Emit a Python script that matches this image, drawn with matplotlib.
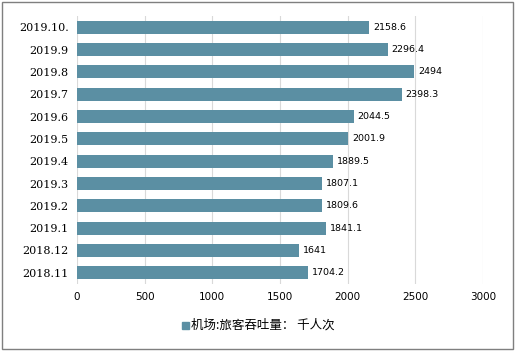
import matplotlib.pyplot as plt
from matplotlib.patches import Rectangle

months = ["2018.11", "2018.12", "2019.1", "2019.2", "2019.3", "2019.4",
          "2019.5", "2019.6", "2019.7", "2019.8", "2019.9", "2019.10."]
values = [1704.2, 1641, 1841.1, 1809.6, 1807.1, 1889.5,
          2001.9, 2044.5, 2398.3, 2494, 2296.4, 2158.6]
value_text = ["1704.2", "1641", "1841.1", "1809.6", "1807.1", "1889.5",
              "2001.9", "2044.5", "2398.3", "2494", "2296.4", "2158.6"]
xticks = [0, 500, 1000, 1500, 2000, 2500, 3000]

plt.rcParams['font.family'] = ['Noto Sans CJK SC', 'DejaVu Sans']

fig = plt.figure(figsize=(5.16, 3.51), dpi=100)
ax = fig.add_axes([0.149, 0.191, 0.787, 0.763])

color = "#5b8fa3"
y = range(len(months))
ax.barh(y, values, height=0.58, color=color, zorder=2)
for yi, v, t in zip(y, values, value_text):
    ax.text(v + 30, yi, t, va='center', ha='left', fontsize=6.8,
            family=['DejaVu Sans'])

ax.set_xlim(0, 3000)
ax.set_ylim(-0.5, len(months) - 0.5)
ax.set_xticks(xticks)
ax.set_xticklabels([str(t) for t in xticks], fontsize=7.5, family=['DejaVu Sans'])
ax.set_yticks(list(y))
ax.set_yticklabels(months, fontsize=8, family=['DejaVu Serif'])
ax.tick_params(length=0, pad=6)
ax.grid(axis='x', color='#d9d9d9', linewidth=0.8, zorder=0)
for s in ax.spines.values():
    s.set_visible(False)

# legend
fig.patches.append(Rectangle((0.352, 0.062), 0.015, 0.022, transform=fig.transFigure,
                             color=color))
fig.text(0.370, 0.073, "机场:旅客吞吐量： 千人次", fontsize=9, va='center', ha='left')

# outer border
fig.patches.append(Rectangle((0.004, 0.006), 0.99, 0.988, transform=fig.transFigure,
                             fill=False, edgecolor='#7f7f7f', linewidth=1))

fig.savefig("out.png", dpi=100)
